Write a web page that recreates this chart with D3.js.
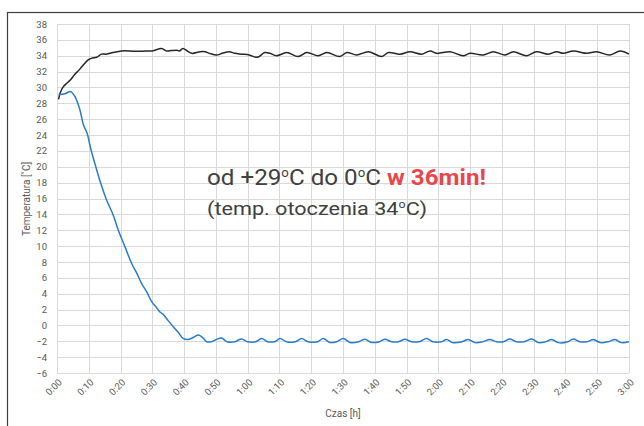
<!DOCTYPE html>
<html><head><meta charset="utf-8">
<script src="https://cdn.jsdelivr.net/npm/d3@7"></script>
<style>body{margin:0;background:#fff;} svg{display:block;font-family:Roboto,"Open Sans",sans-serif;}</style>
</head><body><svg id="c" width="644" height="426"></svg>
<script>
// time in minutes
const blueT = [0.5,2.5,4.1,4.6,5.7,7.2,8.3,9.5,10.6,12.5,14.1,15.6,17.7,19.3,21.4,23.5,25.1,26.6,28.2,29.8,31.4,32.4,33.4,35,36.6,38.2,39.7,41.3,43,44.5,46,47.1,48.6,50,51.8,53.5,56,58.1,60,62.5,64.4,66.3,68.5,70.2,72.2,75,77,79,82,83.8,85.8,88,90.1,92.2,95,96.9,99,101.5,103.2,105.3,107.5,109.5,111.5,114,116.3,118.3,121,122.6,124.5,127.5,129.4,131.5,134,136.2,138.3,140.5,142.5,144.5,147,149.4,151.5,153.5,155.7,157.8,160.5,162.5,164.5,166.8,168.8,171,173.5,175.6,177.6,180];
const blueV = [29.1,29.2,29.5,29.4,28.8,27.2,25.3,24.2,22.3,19.6,17.5,15.8,13.9,12.0,9.9,7.8,6.6,5.3,4.25,3.0,2.2,1.7,1.4,0.6,-0.17,-0.9,-1.64,-1.77,-1.5,-1.2,-1.6,-2.06,-2.06,-1.8,-1.6,-2.05,-2.05,-1.7,-2.05,-2.05,-1.65,-2.05,-2.05,-1.65,-2.05,-2.05,-1.65,-2.05,-2.05,-1.65,-2.15,-2.05,-1.65,-2.15,-2.05,-1.75,-2.15,-2.05,-1.75,-2.05,-2.05,-1.75,-2.05,-2.05,-1.65,-2.05,-2.05,-1.77,-2.17,-2.05,-1.77,-2.17,-2.05,-1.77,-2.05,-2.05,-1.72,-2.05,-2.05,-1.72,-2.17,-2.1,-1.77,-2.17,-2.1,-1.72,-2.05,-2.05,-1.77,-2.17,-2.05,-1.77,-2.17,-2.05];
const blackT = [0.5,1,2,3,4.1,5.7,6.5,7.8,9.9,11,12.5,14,15.5,17.6,20.3,23,25,28,30,32.9,34.5,36,37.7,38.5,39.6,41,42.4,45,46.6,48,50.2,52,54.2,56,58.1,60.5,63,65.4,67,69.1,72.3,75.9,78.6,82.2,84.9,89,91.2,94.3,98,102.2,104.3,107.9,111.1,114.8,117.4,119.5,123.7,127.8,130,134.1,137.3,141,143.6,147.8,150.9,154.6,157.2,159.3,162.5,166.7,169.8,174,177.2,180];
const blackV = [28.5,29.3,30.1,30.5,30.9,31.7,32,32.6,33.5,33.7,33.8,34.2,34.2,34.4,34.6,34.6,34.55,34.6,34.6,34.9,34.6,34.65,34.7,34.6,34.9,34.6,34.3,34.5,34.5,34.3,34.09,34.3,34.5,34.3,34.2,34.1,33.8,34.4,34.3,34.0,34.4,33.9,34.4,34.0,34.4,33.9,34.4,34.1,34.5,33.9,34.4,34.2,34.5,34.2,34.6,34.3,34.5,34.0,34.3,34.1,34.5,34.1,34.5,34.0,34.5,34.2,34.5,34.3,34.6,34.3,34.5,34.1,34.6,34.2];
const yTicks = d3.range(-6, 39, 2);
const xTicks = d3.range(0, 181, 10);
const xTickLabels = xTicks.map(m => Math.floor(m/60) + ":" + String(m%60).padStart(2,"0"));

const svg = d3.select("#c");
svg.append("rect").attr("x",7.5).attr("y",12.5).attr("width",720).attr("height",520)
  .attr("fill","#fff").attr("stroke","#404040").attr("stroke-width",1.2);

const x = d3.scaleLinear().domain([0,180]).range([57,629]);
const y = d3.scaleLinear().domain([-6,38]).range([373,24]);

const g = svg.append("g");
g.selectAll(".hg").data(yTicks).join("line")
  .attr("x1",x(0)).attr("x2",x(180)).attr("y1",d=>Math.round(y(d))+0.5).attr("y2",d=>Math.round(y(d))+0.5)
  .attr("stroke","#d9d9d9").attr("stroke-width",1);
g.selectAll(".vg").data(xTicks).join("line")
  .attr("y1",y(-6)).attr("y2",y(38)).attr("x1",d=>Math.round(x(d))+0.5).attr("x2",d=>Math.round(x(d))+0.5)
  .attr("stroke","#d9d9d9").attr("stroke-width",1);

const yAxis = svg.append("g").attr("transform","translate(57,0)")
  .call(d3.axisLeft(y).tickValues(yTicks).tickSize(0).tickPadding(10));
yAxis.select(".domain").remove();
yAxis.selectAll("text").attr("fill","#595959").attr("font-size","9.5px").attr("font-family","Roboto,sans-serif");

const xAxis = svg.append("g").attr("transform","translate(0,373)")
  .call(d3.axisBottom(x).tickValues(xTicks).tickFormat((d,i)=>xTickLabels[i]).tickSize(0));
xAxis.select(".domain").remove();
xAxis.selectAll("text").attr("fill","#595959").attr("font-size","9.5px").attr("font-family","Roboto,sans-serif")
  .attr("text-anchor","end").attr("dy",null).attr("y",0)
  .attr("transform","translate(5,10) rotate(-45)");

const line = d3.line().x(d=>x(d[0])).y(d=>y(d[1])).curve(d3.curveCatmullRom);
svg.append("path").datum(blackT.map((t,i)=>[t,blackV[i]])).attr("d",line)
  .attr("fill","none").attr("stroke","#262626").attr("stroke-width",1.5);
svg.append("path").datum(blueT.map((t,i)=>[t,blueV[i]])).attr("d",line)
  .attr("fill","none").attr("stroke","#2a7ccb").attr("stroke-width",1.5);

svg.append("text").attr("x",343).attr("y",417).attr("text-anchor","middle")
  .attr("fill","#595959").attr("font-size","10px").text("Czas [h]");
svg.append("text").attr("transform","translate(30,199) rotate(-90)").attr("text-anchor","middle")
  .attr("fill","#595959").attr("font-size","10px").text("Temperatura [˚C]");

const t1 = svg.append("text").attr("x",207).attr("y",185).attr("fill","#404040").attr("font-size","22px")
  .attr("textLength",279).attr("lengthAdjust","spacingAndGlyphs");
t1.append("tspan").text("od +29");
t1.append("tspan").attr("font-size","12px").attr("dy",-8).text("o");
t1.append("tspan").attr("dy",8).text("C do 0");
t1.append("tspan").attr("font-size","12px").attr("dy",-8).text("o");
t1.append("tspan").attr("dy",8).text("C ");
t1.append("tspan").attr("fill","#e8464a").attr("font-weight","bold").text("w 36min!");

const t2 = svg.append("text").attr("x",207).attr("y",215).attr("fill","#404040").attr("font-size","19px")
  .attr("textLength",220).attr("lengthAdjust","spacingAndGlyphs");
t2.append("tspan").text("(temp. otoczenia 34");
t2.append("tspan").attr("font-size","11px").attr("dy",-7).text("o");
t2.append("tspan").attr("dy",7).text("C)");
</script></body></html>
